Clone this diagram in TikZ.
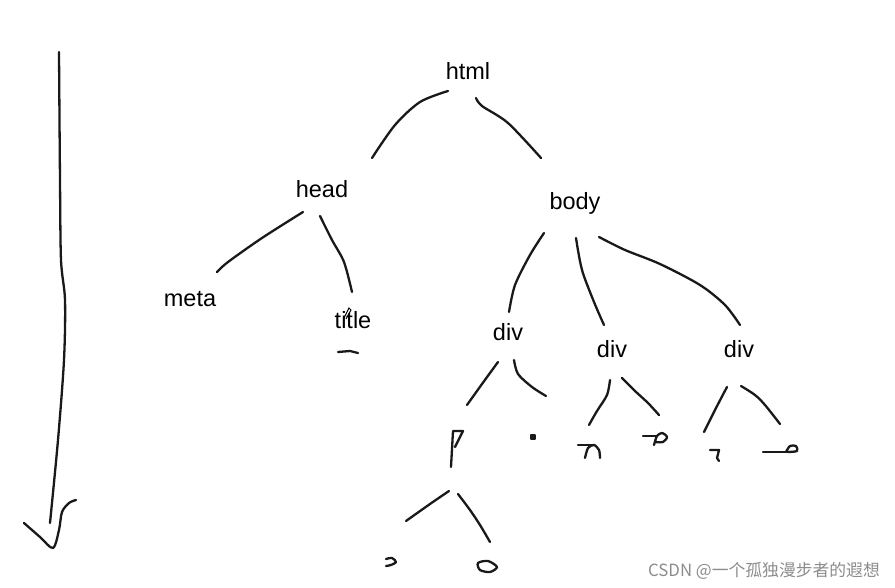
\documentclass[tikz,border=0pt]{standalone}
\usepackage{fontspec}
\setmainfont{Liberation Sans}
\newfontfamily\cjk{Noto Sans CJK SC}
\begin{document}
\begin{tikzpicture}[x=1pt,y=-1pt,
  lbl/.style={font=\fontsize{23.5}{28}\selectfont, inner sep=0pt, text=black},
  pen/.style={line width=2.3pt, line cap=round, line join=round, black!90},
  wm/.style={font=\cjk\fontsize{16.8}{20}\selectfont, text=black!45, inner sep=0pt}]
\useasboundingbox (0,0) rectangle (895,588);
% labels
\node[lbl] (html) at (468,71) {html};
\node[lbl] (head) at (322,189) {head};
\node[lbl] (body) at (575,203) {body};
\node[lbl] (meta) at (190,299) {meta};
\node[lbl] (title) at (353,320) {title};
\node[lbl] (div1) at (508,332) {div};
\node[lbl] (div2) at (612,349) {div};
\node[lbl] (div3) at (739,349) {div};
\node[wm, anchor=east] (wmk) at (880,571) {CSDN @一个孤独漫步者的遐想};
% left arrow
\draw[pen] plot[smooth] coordinates {(59,52) (60,180) (61,260) (65,300) (64,360) (58,440) (50,523)};
\draw[pen] plot[smooth] coordinates {(24,523) (40,537) (53,548) (59,530) (62,512) (69,503) (76,500)};
% html edges
\draw[pen] plot[smooth] coordinates {(448,91) (420,102) (395,125) (372,158)};
\draw[pen] plot[smooth] coordinates {(476,98) (482,106) (508,123) (541,158)};
% head edges
\draw[pen] plot[smooth] coordinates {(303,212) (262,238) (228,262) (217,272)};
\draw[pen] plot[smooth] coordinates {(320,216) (332,240) (344,262) (352,292)};
% title mark
\draw[line width=1pt, black] (344,318) -- (349,308) -- (351,310) -- (346,319);
\draw[pen] (338,352) -- (350,351) -- (358,353);
% body edges
\draw[pen] plot[smooth] coordinates {(544,233) (530,255) (515,285) (509,312)};
\draw[pen] plot[smooth] coordinates {(576,238) (582,270) (594,302) (604,325)};
\draw[pen] plot[smooth] coordinates {(599,237) (625,250) (660,264) (700,285) (725,305) (740,325)};
% div1 children
\draw[pen] plot[smooth] coordinates {(498,362) (482,384) (467,405)};
\draw[pen] plot[smooth] coordinates {(514,360) (518,374) (532,387) (546,396)};
\draw[pen] (451,467) -- (453,431) -- (463,431) -- (455,447);
\filldraw[pen, fill=black!90] (531,435) rectangle (535,439);
% P children
\draw[pen] plot[smooth] coordinates {(449,491) (430,504) (406,521)};
\draw[pen] plot[smooth] coordinates {(458,494) (470,510) (480,525) (490,542)};
\draw[pen] plot[smooth] coordinates {(386,559) (392,558) (396,562) (391,565) (386,566)};
\draw[pen] plot[smooth cycle] coordinates {(478,563) (488,561) (497,567) (490,572) (480,570)};
% div2 children
\draw[pen] plot[smooth] coordinates {(610,380) (607,395) (597,411) (589,425)};
\draw[pen] plot[smooth] coordinates {(622,378) (635,391) (648,403) (659,415)};
\draw[pen] (578,445) -- (594,445);
\draw[pen] plot[smooth] coordinates {(585,458) (588,448) (594,445) (599,450) (600,458)};
\draw[pen] (643,436) -- (657,436);
\draw[pen] plot[smooth] coordinates {(654,445) (657,436) (662,433) (667,437) (663,442) (655,442)};
% div3 children
\draw[pen] plot[smooth] coordinates {(727,387) (716,408) (704,432)};
\draw[pen] plot[smooth] coordinates {(741,386) (755,395) (765,405) (780,424)};
\draw[pen] (710,450) -- (719,450) -- (717,458) -- (719,461);
\draw[pen] (763,452) -- (788,452);
\draw[pen] plot[smooth] coordinates {(786,452) (790,446) (796,446) (797,451) (788,452)};
\end{tikzpicture}
\end{document}
